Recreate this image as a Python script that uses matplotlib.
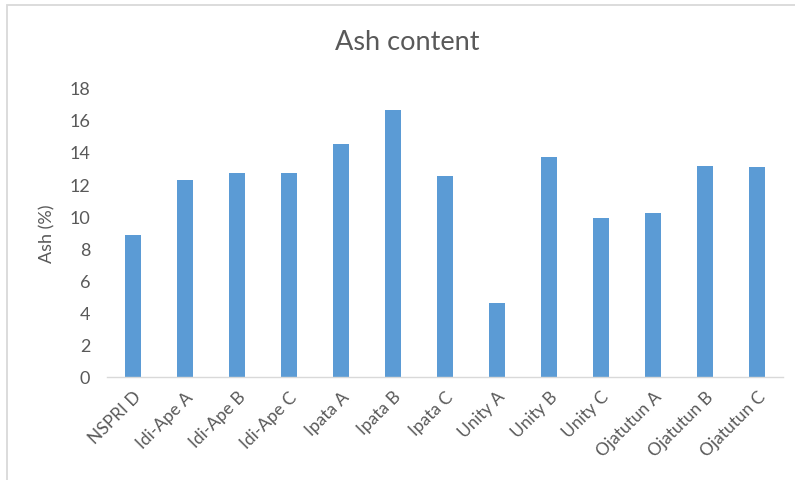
import matplotlib
matplotlib.use("Agg")
import matplotlib.pyplot as plt
from matplotlib.patches import Rectangle

# Ash content per sample (%)
samples = ['NSPRI D', 'Idi-Ape A', 'Idi-Ape B', 'Idi-Ape C', 'Ipata A', 'Ipata B',
           'Ipata C', 'Unity A', 'Unity B', 'Unity C', 'Ojatutun A', 'Ojatutun B',
           'Ojatutun C']
ash = [8.86, 12.24, 12.69, 12.69, 14.49, 16.6, 12.5, 4.58, 13.7, 9.92, 10.19, 13.1, 13.04]
y_ticks = [0, 2, 4, 6, 8, 10, 12, 14, 16, 18]

BAR = '#5B9BD5'
TEXT = '#595959'
GRID = '#D9D9D9'

plt.rcParams['font.family'] = ['Lato', 'DejaVu Sans']

fig = plt.figure(figsize=(7.95, 4.81), dpi=100)
ax = fig.add_axes([107 / 795, 103 / 481, (783 - 107) / 795, (378 - 88.7) / 481])

x = range(len(samples))
ax.bar(x, ash, width=0.31, color=BAR)

ax.set_xlim(-0.5, len(samples) - 0.5)
ax.set_ylim(0, 18)
ax.set_yticks(y_ticks)
ax.set_yticklabels([str(v) for v in y_ticks], fontsize=13, color=TEXT)
ax.set_xticks(list(x))
ax.set_xticklabels(samples, rotation=45, ha='right', va='top',
                   rotation_mode='anchor', fontsize=12.5, color=TEXT)
ax.tick_params(axis='y', length=0, pad=12)
ax.tick_params(axis='x', length=0, pad=8)

for side in ['top', 'right', 'left']:
    ax.spines[side].set_visible(False)
ax.spines['bottom'].set_color(GRID)
ax.spines['bottom'].set_linewidth(1.0)

ax.set_ylabel('Ash (%)', fontsize=13, color=TEXT, labelpad=10)
fig.text(407 / 795, 1 - 43 / 481, 'Ash content', ha='center', va='center',
         fontsize=19.5, color=TEXT)

# light frame around the chart area
fig.add_artist(Rectangle((6.5 / 795, -0.05), 1.1, 1 - 6 / 481 + 0.05,
                         transform=fig.transFigure, fill=False,
                         edgecolor=GRID, linewidth=1.3))

fig.savefig('out.png', dpi=100)
